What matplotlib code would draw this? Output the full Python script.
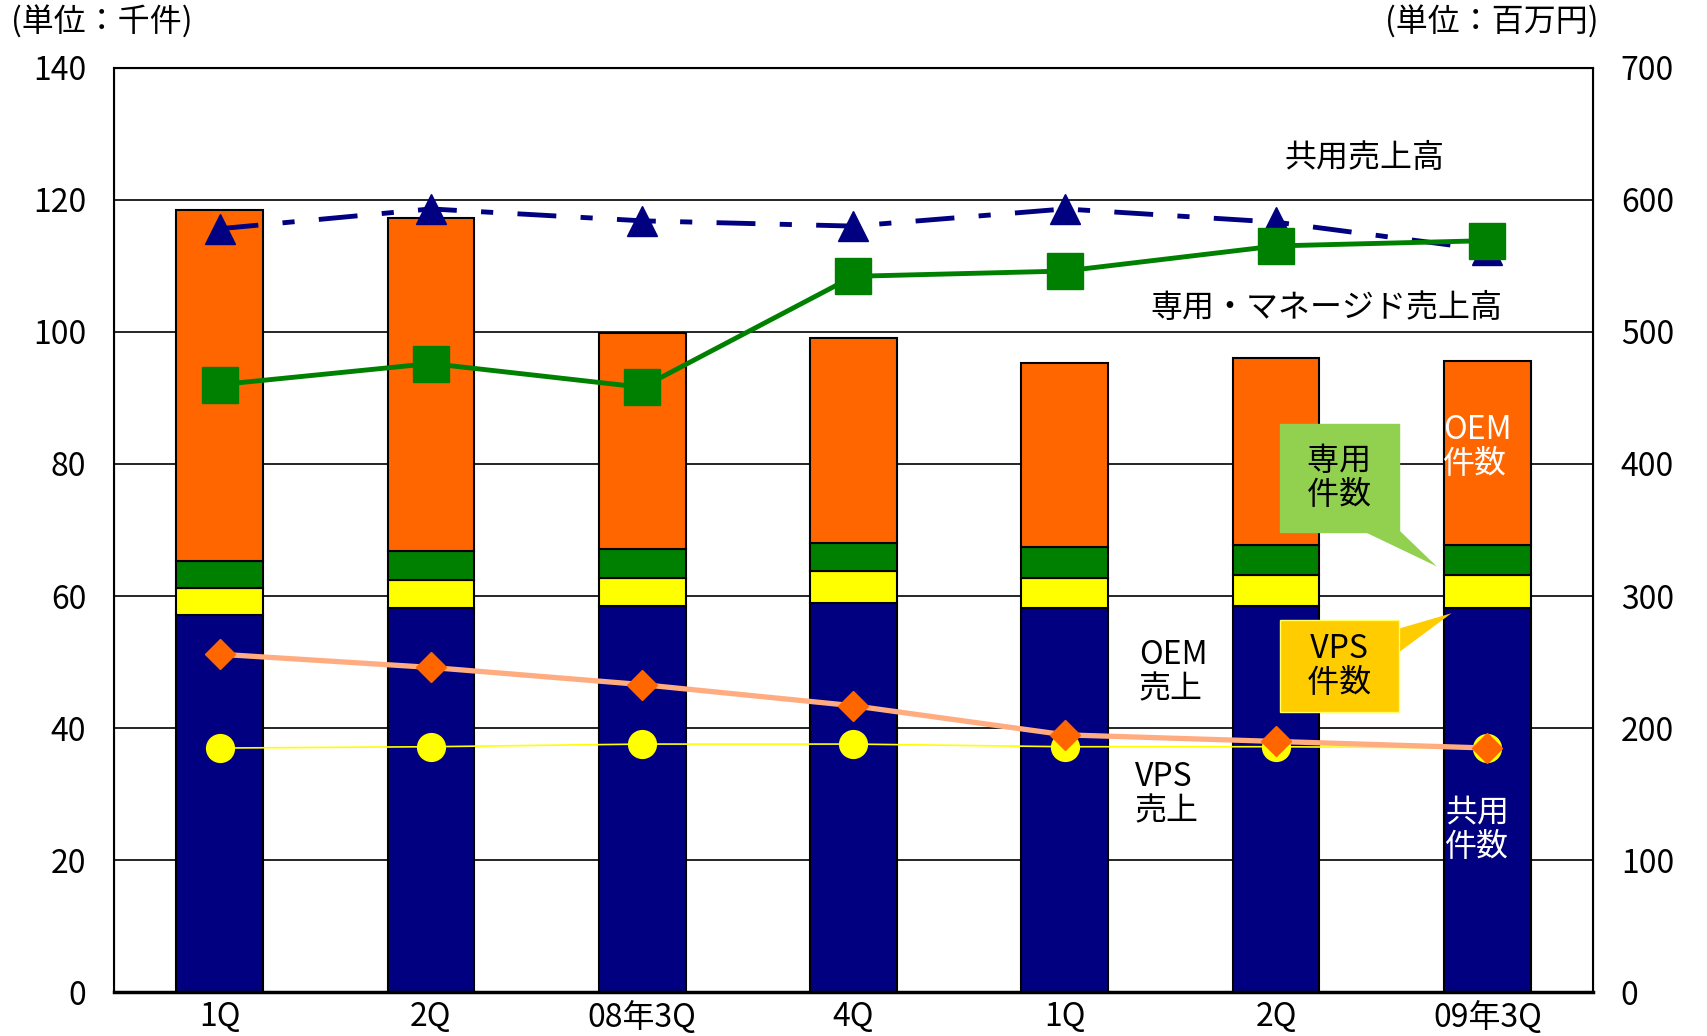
import matplotlib
matplotlib.use("Agg")
import matplotlib.pyplot as plt
import numpy as np

plt.rcParams['font.family'] = ['Noto Sans CJK JP', 'DejaVu Sans']

# data (left axis: 千件, right axis: 百万円)
quarters = ["1Q", "2Q", "08年3Q", "4Q", "1Q", "2Q", "09年3Q"]
shared_cnt = [57.1, 58.2, 58.5, 59.0, 58.2, 58.5, 58.2]     # 共用件数
vps_cnt = [4.1, 4.3, 4.3, 4.8, 4.6, 4.7, 5.0]               # VPS件数
dedicated_cnt = [4.1, 4.3, 4.3, 4.3, 4.6, 4.6, 4.6]         # 専用件数
oem_cnt = [53.1, 50.4, 32.7, 31.0, 27.9, 28.3, 27.8]        # OEM件数

shared_sales = [578, 593, 584, 580, 593, 583, 562]          # 共用売上高
dedicated_sales = [460, 476, 458, 542, 546, 565, 569]       # 専用・マネージド売上高
oem_sales = [256, 246, 233, 217, 195, 190, 185]             # OEM売上
vps_sales = [185, 186, 188, 188, 186, 186, 185]             # VPS売上

x = np.arange(len(quarters))
W = 0.41
fs = 23

fig = plt.figure(figsize=(17.08, 10.36), dpi=100)
ax = fig.add_axes([0.0667, 0.042, 0.866, 0.8928])
ax2 = ax.twinx()

# stacked bars
stacks = [(shared_cnt, '#000080'), (vps_cnt, '#FFFF00'),
          (dedicated_cnt, '#008000'), (oem_cnt, '#FF6600')]
bottom = np.zeros(len(x))
for vals, col in stacks:
    ax.bar(x, vals, W, bottom=bottom, color=col, edgecolor='black', linewidth=1.5, zorder=2)
    bottom += np.array(vals)

ax.set_xlim(-0.5, len(x) - 0.5)
ax.set_ylim(0, 140)
ax.set_yticks(range(0, 141, 20))
ax.yaxis.grid(True, color='black', linewidth=1.2)
ax.set_axisbelow(True)
ax.set_xticks(x)
ax.set_xticklabels(quarters)
ax.tick_params(axis='both', length=0, labelsize=fs)
ax.tick_params(axis='y', pad=20)
ax.tick_params(axis='x', pad=6)
for s in ax.spines.values():
    s.set_linewidth(1.5)
ax.spines['bottom'].set_linewidth(2.5)

# lines on right axis
ax2.set_ylim(0, 700)
ax2.set_yticks(range(0, 701, 100))
ax2.tick_params(axis='y', length=0, labelsize=fs, pad=20)

ax2.plot(x, vps_sales, color='#FFFF00', lw=1.2, marker='o', ms=20,
         mfc='#FFFF00', mec='#FFFF00', zorder=3)
ax2.plot(x, oem_sales, color='#FFAD80', lw=3.8, marker='D', ms=15,
         mfc='#FF6600', mec='#FF6600', zorder=4)
ax2.plot(x, shared_sales, color='#000080', lw=3.5, linestyle=(0, (8, 5, 2.5, 5)),
         marker='^', ms=21, mfc='#000080', mec='#000080', zorder=5)
ax2.plot(x, dedicated_sales, color='#008000', lw=3.5, marker='s', ms=26,
         mfc='#008000', mec='#008000', zorder=6)

# labels
ax.text(5.42, 126.3, "共用売上高", fontsize=fs, ha='center', va='center')
ax.text(5.24, 103.6, "専用・マネージド売上高", fontsize=fs, ha='center', va='center')
ax.text(4.35, 48.5, "OEM\n売上", fontsize=fs, ha='left', va='center', linespacing=1.1)
ax.text(4.33, 30.0, "VPS\n売上", fontsize=fs, ha='left', va='center', linespacing=1.1)
ax.text(5.79, 82.6, "OEM\n件数", fontsize=fs, ha='left', va='center', color='white',
        linespacing=1.1, zorder=5)
ax.text(5.80, 24.6, "共用\n件数", fontsize=fs, ha='left', va='center', color='white',
        linespacing=1.1, zorder=5)

ax.annotate(" 専用 \n 件数 ", xy=(5.76, 64.5), xytext=(5.30, 77.9), fontsize=fs,
            ha='center', va='center', linespacing=1.1, zorder=6,
            bbox=dict(boxstyle='square,pad=0.65', fc='#92D050', ec='#92D050'),
            arrowprops=dict(arrowstyle='wedge,tail_width=1.1,shrink_factor=0.5',
                            fc='#92D050', ec='none', patchA=None, shrinkA=0,
                            shrinkB=0, relpos=(0.6, 0.1)))
ax.annotate("  VPS  \n  件数  ", xy=(5.83, 57.4), xytext=(5.30, 49.4), fontsize=fs,
            ha='center', va='center', linespacing=1.1, zorder=6,
            bbox=dict(boxstyle='square,pad=0.4', fc='#FFCC00', ec='#FFFF66'),
            arrowprops=dict(arrowstyle='wedge,tail_width=1.0,shrink_factor=0.5',
                            fc='#FFCC00', ec='none', patchA=None, shrinkA=0,
                            shrinkB=0, relpos=(0.85, 0.7)))

fig.text(0.0064, 0.979, "(単位：千件)", fontsize=fs, ha='left', va='center')
fig.text(0.936, 0.979, "(単位：百万円)", fontsize=fs, ha='right', va='center')

fig.savefig("out.png", dpi=100)
